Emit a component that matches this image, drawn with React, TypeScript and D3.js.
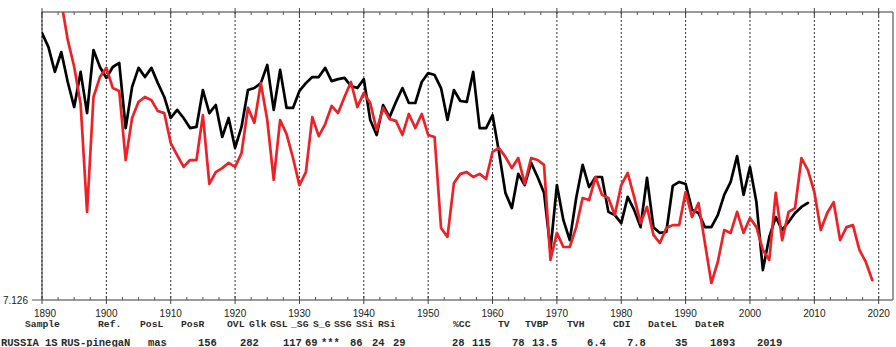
import React from "react";
import * as d3 from "d3";

const blackStart = 1889;
const blackValues = [
  86.8, 92.7, 87.8, 79.2, 86.1, 75.7, 67.0, 79.2, 64.9, 86.8,
  80.9, 77.1, 80.9, 82.3, 59.7, 74.0, 80.6, 77.4, 80.6, 75.3,
  70.5, 63.2, 66.0, 63.2, 59.7, 60.1, 72.9, 64.9, 67.7, 56.6,
  63.2, 52.8, 60.1, 72.9, 73.6, 75.3, 81.6, 66.0, 79.9, 66.7,
  66.7, 72.6, 75.3, 77.4, 77.4, 80.6, 76.0, 76.7, 77.1, 74.3,
  73.6, 76.7, 62.5, 57.3, 67.7, 63.5, 68.8, 73.6, 68.4, 68.4,
  75.7, 78.8, 78.1, 73.6, 62.5, 72.9, 69.1, 68.8, 79.2, 59.7,
  59.7, 64.2, 51.4, 37.2, 31.9, 43.8, 39.9, 47.6, 42.7, 37.2,
  17.4, 39.9, 27.8, 20.8, 35.4, 46.9, 39.2, 42.7, 42.7, 30.6,
  29.5, 26.7, 35.8, 31.3, 25.3, 42.4, 25.3, 23.3, 23.6, 39.6,
  41.0, 40.3, 31.3, 30.2, 25.3, 25.3, 29.5, 36.5, 41.0, 50.0,
  36.5, 46.2, 34.0, 10.4, 21.9, 28.8, 24.3, 27.1, 30.2, 32.3,
  33.7,
];

const redStart = 1893;
const redValues = [
  103.5, 90.3, 81.0, 68.1, 30.6, 70.5, 77.4, 80.6, 73.6, 72.6,
  48.6, 63.2, 68.8, 70.5, 69.4, 65.6, 64.9, 54.5, 50.3, 46.2,
  48.6, 48.6, 64.2, 40.3, 44.4, 45.8, 47.6, 46.2, 51.0, 66.7,
  61.5, 75.3, 62.5, 41.7, 62.5, 57.6, 49.3, 39.9, 44.4, 63.5,
  56.9, 61.1, 67.4, 64.9, 70.5, 75.7, 67.0, 71.9, 68.4, 59.0,
  66.7, 62.8, 62.2, 57.3, 64.6, 59.7, 64.6, 57.3, 56.6, 25.0,
  21.9, 40.6, 43.8, 44.4, 42.7, 43.8, 42.0, 51.4, 52.8, 49.7,
  45.8, 49.3, 40.3, 49.3, 48.6, 46.9, 13.9, 23.3, 18.4, 18.4,
  25.3, 35.4, 34.7, 42.7, 36.5, 35.4, 29.5, 39.9, 44.1, 35.8,
  26.7, 32.3, 22.6, 19.8, 25.0, 26.0, 26.0, 37.5, 28.8, 33.7,
  19.8, 5.9, 13.2, 24.3, 23.3, 30.6, 23.3, 28.5, 25.3, 17.4,
  13.9, 37.2, 20.8, 30.6, 31.9, 49.3, 45.1, 37.5, 24.3, 30.2,
  34.0, 20.8, 25.3, 26.0, 17.4, 13.2, 6.9,
];

const decadeTicks = [1890, 1900, 1910, 1920, 1930, 1940, 1950, 1960, 1970, 1980, 1990, 2000, 2010, 2020];
const yMinLabel = "7.126";

const headerLabels = ["Sample", "Ref.", "PosL", "PosR", "OVL", "Glk", "GSL", "_SG", "S_G", "SSG", "SSi", "RSi", "%CC", "TV", "TVBP", "TVH", "CDI", "DateL", "DateR"];
const valueLabels = ["RUSSIA", "1S", "RUS-pinegaN", "mas", "156", "282", "117", "69", "***", "86", "24", "29", "28", "115", "78", "13.5", "6.4", "7.8", "35", "1893", "2019"];

// layout (pixel positions of the text tokens)
const headerX = [25, 98, 140, 181, 227, 249, 270, 291, 313, 334, 356, 378, 453, 498, 525, 567, 613, 648, 695];
const valueX = [1, 45, 61, 148, 198, 240, 283, 305, 321, 350, 372, 393, 452, 472, 512, 532, 587, 627, 675, 710, 757];

export default function App() {
  const W = 896;
  const H = 347;
  const left = 42;
  const right = 893;
  const top = 12;
  const bottom = 300;

  const x = d3.scaleLinear().domain([1890, 2020]).range([left, 878.7]);
  const y = d3.scaleLinear().domain([0, 100]).range([bottom, top]);

  const blackPath = d3
    .line<number>()
    .x((_, i) => x(blackStart + i))
    .y((d) => y(d))(blackValues);
  const redPath = d3
    .line<number>()
    .x((_, i) => x(redStart + i))
    .y((d) => y(d))(redValues);

  const minorTicks = d3.range(1890, 2021, 2.5).filter((t) => t % 10 !== 0);
  const frame = "#7a7a7a";
  const mono = "'Liberation Mono', 'Courier New', monospace";
  const sans = "'Liberation Sans', Arial, sans-serif";

  return (
    <svg
      width={W}
      height={H}
      style={{ position: "absolute", left: 0, top: 0, background: "#fff" }}
    >
      <defs>
        <clipPath id="plot">
          <rect x={left} y={top} width={right - left} height={bottom - top} />
        </clipPath>
      </defs>
      <rect x={0} y={0} width={W} height={H} fill="#fff" />

      {/* frame */}
      <line x1={left} x2={right} y1={top} y2={top} stroke={frame} strokeWidth={1.5} />
      <line x1={left} x2={right} y1={bottom} y2={bottom} stroke={frame} strokeWidth={1.5} />
      <line x1={left} x2={left} y1={top} y2={bottom} stroke={frame} strokeWidth={1.5} />
      <line x1={right} x2={right} y1={top} y2={bottom} stroke={frame} strokeWidth={1.5} />

      {/* decade gridlines */}
      {decadeTicks.map((t) => (
        <line
          key={"g" + t}
          x1={x(t)}
          x2={x(t)}
          y1={top}
          y2={bottom}
          stroke="#333"
          strokeWidth={1}
          strokeDasharray="2 2"
        />
      ))}

      {/* ticks */}
      {minorTicks.map((t) => (
        <g key={"m" + t} stroke="#555" strokeWidth={1}>
          <line x1={x(t)} x2={x(t)} y1={top} y2={top + 3} />
          <line x1={x(t)} x2={x(t)} y1={bottom - 3} y2={bottom} />
        </g>
      ))}
      {decadeTicks.map((t) => (
        <g key={"M" + t} stroke="#444" strokeWidth={1}>
          <line x1={x(t)} x2={x(t)} y1={top - 4} y2={top + 4} />
          <line x1={x(t)} x2={x(t)} y1={bottom - 4} y2={bottom + 4} />
        </g>
      ))}

      {/* y tick */}
      <line x1={32} x2={left} y1={bottom} y2={bottom} stroke="#555" strokeWidth={1} />
      <text x={28} y={bottom + 3.5} textAnchor="end" fontFamily={sans} fontSize={10} fill="#222">
        {yMinLabel}
      </text>

      {/* x labels */}
      {decadeTicks.map((t) => (
        <text
          key={"l" + t}
          x={x(t) + (t === 1890 ? 3 : 0)}
          y={317}
          textAnchor="middle"
          fontFamily={sans}
          fontSize={10}
          fill="#222"
        >
          {t}
        </text>
      ))}

      {/* series */}
      <g clipPath="url(#plot)" fill="none" strokeLinejoin="round" strokeLinecap="round">
        <path d={blackPath || ""} stroke="#000" strokeWidth={2.7} />
        <path d={redPath || ""} stroke="#ec2227" strokeWidth={2.7} />
      </g>

      {/* statistics text */}
      {headerLabels.map((s, i) => (
        <text
          key={"h" + i}
          x={headerX[i]}
          y={327}
          fontFamily={mono}
          fontWeight="bold"
          fontSize={9.7}
          fill="#2a2a2a"
        >
          {s}
        </text>
      ))}
      {valueLabels.map((s, i) => (
        <text
          key={"v" + i}
          x={valueX[i]}
          y={345.5}
          fontFamily={mono}
          fontWeight="bold"
          fontSize={10.5}
          fill="#2a2a2a"
        >
          {s}
        </text>
      ))}
    </svg>
  );
}
